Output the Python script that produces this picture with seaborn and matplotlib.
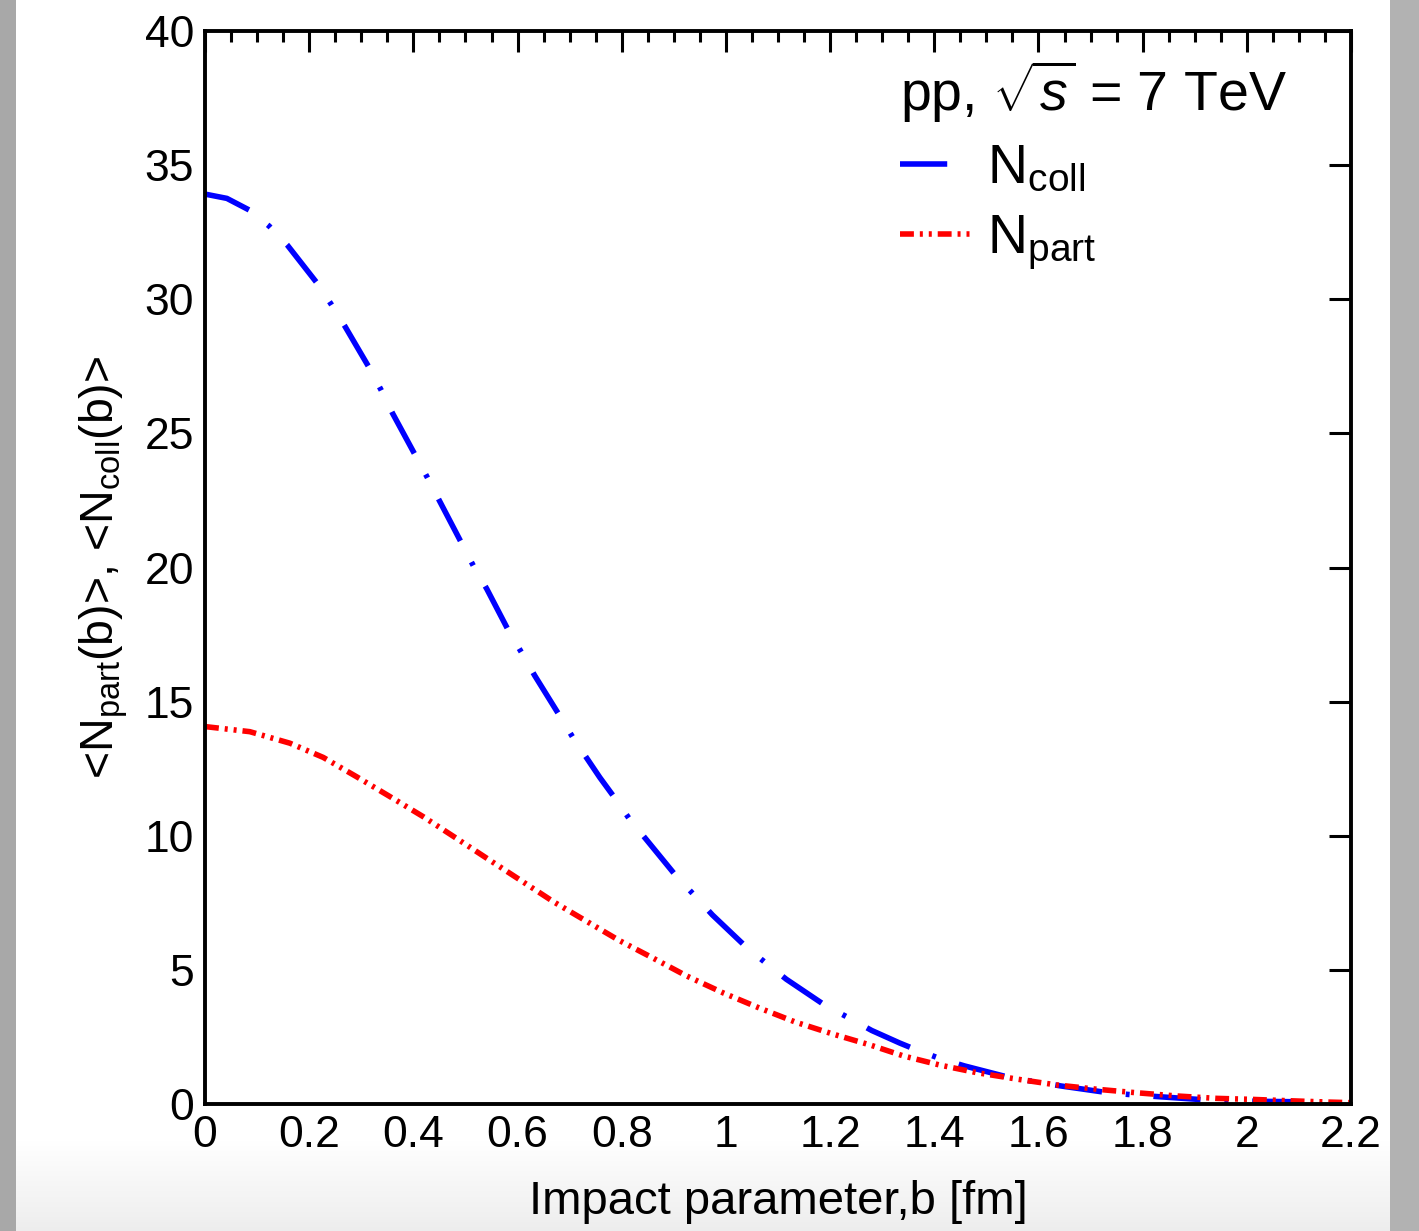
import numpy as np
import pandas as pd
import matplotlib
matplotlib.use("Agg")
import matplotlib.pyplot as plt
import seaborn as sns
from matplotlib.ticker import MultipleLocator, FuncFormatter

# ---- data ----
b_coll = [0.0, 0.042, 0.0845, 0.123, 0.158, 0.214, 0.242, 0.269, 0.314, 0.338, 0.360,
          0.403, 0.427, 0.450, 0.492, 0.515, 0.541, 0.582, 0.608, 0.633, 0.680,
          0.706, 0.758, 0.787, 0.815, 0.848, 0.904, 0.939, 0.974, 1.038, 1.077,
          1.116, 1.191, 1.235, 1.280, 1.334, 1.363, 1.410, 1.458, 1.546, 1.594,
          1.644, 1.734, 1.782, 1.833, 1.923, 1.974, 2.025, 2.112]
n_coll = [33.92, 33.76, 33.33, 32.73, 32.02, 30.63, 29.82, 28.98, 27.49, 26.62, 25.75,
          24.21, 23.35, 22.49, 20.93, 20.07, 19.20, 17.67, 16.82, 15.97, 14.50,
          13.67, 12.17, 11.40, 10.62, 9.84, 8.51, 7.79, 7.05, 5.87, 5.25,
          4.65, 3.67, 3.22, 2.74, 2.27, 2.04, 1.70, 1.42, 0.98, 0.83,
          0.67, 0.42, 0.34, 0.27, 0.15, 0.12, 0.10, 0.08]

b_part = [0.0, 0.086, 0.163, 0.227, 0.291, 0.355, 0.419, 0.483, 0.541, 0.605,
          0.669, 0.730, 0.794, 0.861, 0.925, 0.995, 1.064, 1.134, 1.205, 1.277,
          1.341, 1.411, 1.481, 1.558, 1.635, 1.712, 1.788, 1.865, 1.942, 2.006,
          2.083, 2.160, 2.200]
n_part = [14.07, 13.88, 13.45, 12.92, 12.20, 11.46, 10.71, 9.90, 9.16, 8.35,
          7.54, 6.84, 6.11, 5.43, 4.77, 4.14, 3.58, 3.05, 2.61, 2.20,
          1.79, 1.45, 1.17, 0.93, 0.71, 0.55, 0.42, 0.30, 0.21, 0.175,
          0.12, 0.07, 0.05]

x_ticks = [0, 0.2, 0.4, 0.6, 0.8, 1.0, 1.2, 1.4, 1.6, 1.8, 2.0, 2.2]
y_ticks = [0, 5, 10, 15, 20, 25, 30, 35, 40]

label_coll = r"N$_{\mathrm{coll}}$"
label_part = r"N$_{\mathrm{part}}$"
header = r"pp, $\sqrt{s}$ = 7 TeV"
xlabel = "Impact parameter,b [fm]"
ylabel = r"<N$_{\mathrm{part}}$(b)>, <N$_{\mathrm{coll}}$(b)>"

# ---- style ----
sns.set_theme(style="white")
plt.rcParams["font.family"] = ["Liberation Sans", "DejaVu Sans"]
plt.rcParams["mathtext.fontset"] = "custom"
plt.rcParams["mathtext.rm"] = "Liberation Sans"
plt.rcParams["mathtext.it"] = "Liberation Sans:italic"
plt.rcParams["mathtext.bf"] = "Liberation Sans:bold"
plt.rcParams["text.color"] = "black"
plt.rcParams["axes.labelcolor"] = "black"

W, H = 1419, 1231
fig = plt.figure(figsize=(W / 100, H / 100), dpi=100)
fig.patch.set_facecolor("white")

# background frame (gray side strips and soft bottom shade)
bg = fig.add_axes([0, 0, 1, 1], zorder=-10)
img = np.ones((H, W, 3))
rows = np.arange(H)
shade = np.clip((rows - 1140) / (H - 1140), 0, 1) * 0.07
img -= shade[:, None, None]
img[:, :16, :] = 0.66
img[:, 1390:, :] = 0.70
bg.imshow(img, aspect="auto", extent=[0, 1, 0, 1], origin="upper")
bg.axis("off")

ax = fig.add_axes([205 / W, 1 - 1104 / H, (1351 - 205) / W, (1104 - 31) / H])

df_coll = pd.DataFrame({"b": b_coll, "n": n_coll})
df_part = pd.DataFrame({"b": b_part, "n": n_part})

lw = 4.0
sns.lineplot(data=df_coll, x="b", y="n", ax=ax, color="#0000ff", linewidth=lw,
             linestyle=(0, (8.5, 4.3, 0.7, 4.3)), label=label_coll)
sns.lineplot(data=df_part, x="b", y="n", ax=ax, color="#ff0000", linewidth=lw,
             linestyle=(0, (2.5, 1.07, 0.54, 1.07, 0.54, 1.07)), label=label_part)

ax.set_xlim(0, 2.2)
ax.set_ylim(0, 40)
ax.set_xticks(x_ticks)
ax.set_yticks(y_ticks)
ax.xaxis.set_major_formatter(FuncFormatter(lambda v, p: f"{v:g}"))
ax.xaxis.set_minor_locator(MultipleLocator(0.05))

for s in ax.spines.values():
    s.set_linewidth(2.8)
    s.set_color("black")

ax.tick_params(axis="both", which="both", direction="in", top=True, right=True,
               colors="black", labelsize=32)
ax.tick_params(axis="x", which="major", length=15, width=2.2, pad=8)
ax.tick_params(axis="x", which="minor", length=8, width=2.2)
ax.tick_params(axis="y", which="major", length=16, width=2.2, pad=8)

ax.set_xlabel(xlabel, fontsize=34)
ax.set_ylabel(ylabel, fontsize=33.5, labelpad=10)
ax.xaxis.set_label_coords(0.5, -0.071)

leg = ax.legend(loc="upper left", bbox_to_anchor=(0.587, 0.995), frameon=False,
                title=header, title_fontsize=40, fontsize=40,
                handlelength=1.26, handletextpad=0.3, labelspacing=0.33,
                alignment="left", borderaxespad=0)
for t in leg.get_texts():
    t.set_color("black")
leg.get_title().set_color("black")

fig.savefig("out.png", dpi=100)
